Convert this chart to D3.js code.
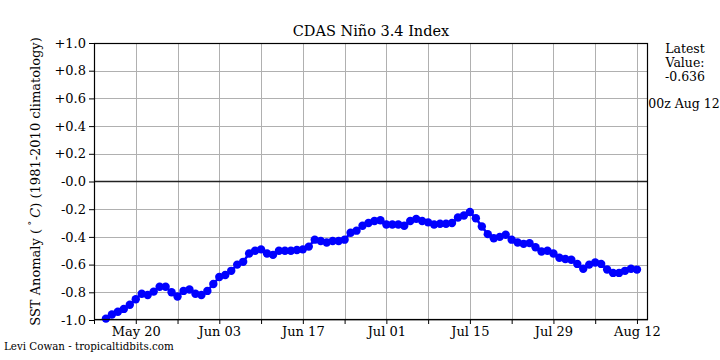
<!DOCTYPE html>
<html><head><meta charset="utf-8">
<script src="https://cdn.jsdelivr.net/npm/d3@7/dist/d3.min.js"></script>
<style>
body{margin:0;background:#fff;}
svg text{font-family:"DejaVu Serif",serif;fill:#000;}
</style></head>
<body><svg id="c" width="720" height="360"></svg>
<script>
const startDate = "2024-05-15";
const values = [-0.99,-0.96,-0.94,-0.92,-0.89,-0.85,-0.81,-0.82,-0.795,-0.76,
-0.76,-0.80,-0.83,-0.79,-0.78,-0.81,-0.82,-0.79,-0.74,-0.69,
-0.675,-0.645,-0.60,-0.58,-0.52,-0.50,-0.49,-0.52,-0.53,-0.50,
-0.50,-0.50,-0.495,-0.49,-0.47,-0.42,-0.43,-0.44,-0.43,-0.43,
-0.42,-0.37,-0.355,-0.32,-0.30,-0.285,-0.28,-0.31,-0.31,-0.31,
-0.32,-0.285,-0.27,-0.285,-0.295,-0.31,-0.305,-0.305,-0.30,-0.26,
-0.245,-0.22,-0.265,-0.325,-0.38,-0.41,-0.40,-0.385,-0.42,-0.44,
-0.45,-0.445,-0.475,-0.505,-0.50,-0.52,-0.55,-0.56,-0.565,-0.595,
-0.63,-0.60,-0.585,-0.595,-0.635,-0.66,-0.66,-0.645,-0.63,-0.636];
const yTicks = [1.0,0.8,0.6,0.4,0.2,0.0,-0.2,-0.4,-0.6,-0.8,-1.0];
const yTickLabels = ["+1.0","+0.8","+0.6","+0.4","+0.2","-0.0","-0.2","-0.4","-0.6","-0.8","-1.0"];
const majorTickDates = ["2024-05-20","2024-06-03","2024-06-17","2024-07-01","2024-07-15","2024-07-29","2024-08-12"];
const minorTickDates = ["2024-05-13","2024-05-27","2024-06-10","2024-06-24","2024-07-08","2024-07-22","2024-08-05"];
const latestLines = ["Latest","Value:","-0.636"];
const latestTime = "00z Aug 12";

const DAY = 86400000;
const t0 = new Date(startDate + "T00:00:00Z");
const data = values.map((v,i)=>({date:new Date(t0.getTime()+i*DAY), v}));

const svg = d3.select("#c");
const L=94, R=648, T=43, B=320;
const x = d3.scaleUtc()
  .domain([new Date("2024-05-13T00:00:00Z"), new Date(new Date("2024-08-12T00:00:00Z").getTime()+1.85*DAY)])
  .range([L,R]);
const y = d3.scaleLinear().domain([-1,1]).range([B,T]);

const parse = s=>new Date(s+"T00:00:00Z");
const allGrid = majorTickDates.concat(minorTickDates).map(parse);

// grid
const g = svg.append("g");
g.selectAll("line.vg").data(allGrid).join("line")
  .attr("x1",d=>Math.round(x(d))+0.5).attr("x2",d=>Math.round(x(d))+0.5)
  .attr("y1",T).attr("y2",B).attr("stroke","#b0b0b0").attr("stroke-width",1);
g.selectAll("line.hg").data(yTicks.filter(v=>v!==0)).join("line")
  .attr("x1",L).attr("x2",R)
  .attr("y1",d=>Math.round(y(d))+0.5).attr("y2",d=>Math.round(y(d))+0.5)
  .attr("stroke","#b0b0b0").attr("stroke-width",1);
// zero line
g.append("line").attr("x1",L).attr("x2",R).attr("y1",y(0)).attr("y2",y(0))
  .attr("stroke","#222").attr("stroke-width",1.3);

// data
svg.append("path").datum(data)
  .attr("d",d3.line().x(d=>x(d.date)).y(d=>y(d.v)))
  .attr("fill","none").attr("stroke","#0000ff").attr("stroke-width",2.5);
svg.append("g").selectAll("circle").data(data).join("circle")
  .attr("cx",d=>x(d.date)).attr("cy",d=>y(d.v)).attr("r",4.2).attr("fill","#0000ff");

// frame
svg.append("rect").attr("x",L+0.5).attr("y",T+0.5).attr("width",R-L-1).attr("height",B-T-1)
  .attr("fill","none").attr("stroke","#000").attr("stroke-width",1.2);

// axes
const xAxisMajor = d3.axisBottom(x).tickValues(majorTickDates.map(parse))
  .tickFormat(d3.utcFormat("%b %d")).tickSize(4).tickPadding(3);
const xa = svg.append("g").attr("transform",`translate(0,${B})`).call(xAxisMajor);
xa.select(".domain").remove();
xa.selectAll("text").attr("font-size","13px").attr("font-family","DejaVu Serif").attr("fill","#000");
const xAxisMinor = d3.axisBottom(x).tickValues(minorTickDates.map(parse)).tickFormat("").tickSize(4);
const xm = svg.append("g").attr("transform",`translate(0,${B})`).call(xAxisMinor);
xm.select(".domain").remove();

const yAxis = d3.axisLeft(y).tickValues(yTicks).tickFormat((d,i)=>yTickLabels[i]).tickSize(5).tickPadding(3);
const ya = svg.append("g").attr("transform",`translate(${L},0)`).call(yAxis);
ya.select(".domain").remove();
ya.selectAll("text").attr("font-size","13px").attr("font-family","DejaVu Serif").attr("fill","#000");

// title
svg.append("text").attr("x",(L+R)/2).attr("y",36).attr("text-anchor","middle")
  .attr("font-size","14.5px").text("CDAS Niño 3.4 Index");

// y label
const yl = svg.append("text").attr("transform",`translate(40,${(T+B)/2}) rotate(-90)`)
  .attr("text-anchor","middle").attr("font-size","13px");
yl.append("tspan").text("SST Anomaly (");
yl.append("tspan").attr("font-size","10px").attr("dy","-5").text(" ° ");
yl.append("tspan").attr("dy","5").attr("font-style","italic").text("C");
yl.append("tspan").text(") (1981-2010 climatology)");

// right annotation
svg.append("g").selectAll("text").data(latestLines).join("text")
  .attr("x",685).attr("y",(d,i)=>53+i*14).attr("text-anchor","middle")
  .attr("font-size","12.5px").text(d=>d);
svg.append("text").attr("x",684).attr("y",108).attr("text-anchor","middle")
  .attr("font-size","12.5px").text(latestTime);

// footer
svg.append("text").attr("x",4).attr("y",350).attr("font-size","10.3px")
  .text("Levi Cowan - tropicaltidbits.com");
</script></body></html>
